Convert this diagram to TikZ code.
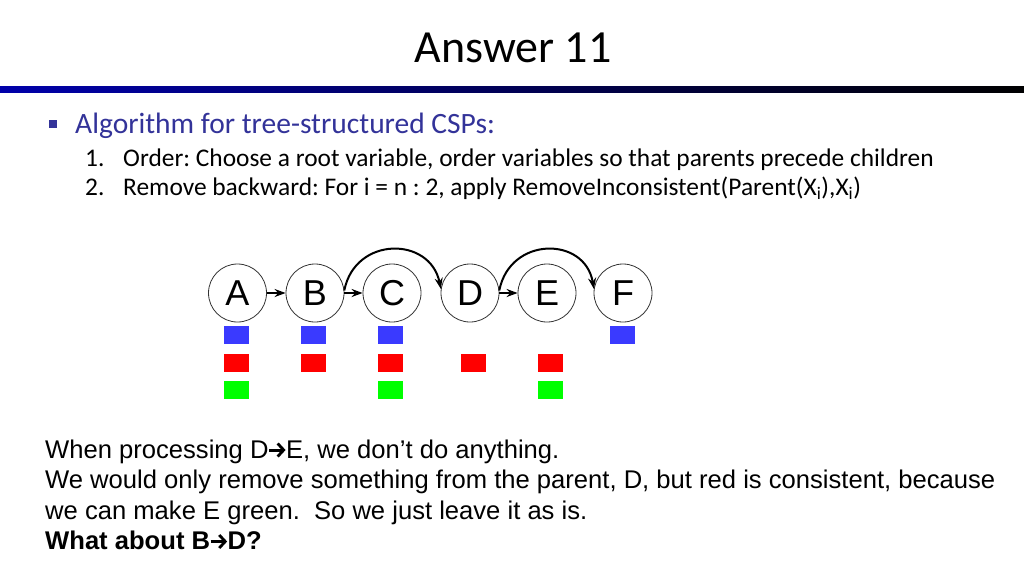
\documentclass[tikz,border=0pt]{standalone}
\usepackage{fontspec}
\setmainfont{Carlito}
\newfontfamily\arialf{Liberation Sans}
\usetikzlibrary{arrows.meta}
\definecolor{titlebl}{RGB}{0,0,170}
\definecolor{bultc}{RGB}{51,51,153}
\definecolor{sqblue}{RGB}{58,58,255}
\definecolor{sqred}{RGB}{255,0,0}
\definecolor{sqgreen}{RGB}{0,255,0}
\newcommand{\txtarrow}{\tikz[baseline=0pt,x=1pt,y=1pt]{\useasboundingbox (-0.5,0) rectangle (17,16); \draw[line width=3pt,-{Straight Barb[length=6pt,width=13pt,line width=2.8pt]}] (0,8) -- (16.5,8);}}
\tikzset{
  vnode/.style={circle, draw=black!80, line width=0.8pt, minimum size=58pt, inner sep=0pt, font=\arialf\fontsize{36}{36}\selectfont},
  arr/.style={-{Stealth[length=11pt,width=8pt]}, line width=2pt},
  sq/.style={minimum width=25pt, minimum height=18pt, inner sep=0pt, draw=none},
  body/.style={anchor=base west, inner sep=0pt, font=\arialf\fontsize{25.6}{25.6}\selectfont},
  item/.style={anchor=base west, inner sep=0pt, font=\fontsize{25.4}{25.4}\selectfont}
}
\begin{document}
\frenchspacing
\begin{tikzpicture}[x=1pt,y=-1pt]
\useasboundingbox (0,0) rectangle (1024,576);
\fill[white] (0,0) rectangle (1024,576);
% title
\node[inner sep=0pt, anchor=base, font=\fontsize{46}{46}\selectfont] (title) at (513,62) {Answer 11};
\shade[left color=titlebl, right color=black] (0,86.5) rectangle (1024,92);
% bullet
\fill[bultc] (49,120) rectangle (56.5,127.5);
\node[anchor=base west, inner sep=0pt, text=bultc, font=\fontsize{29.5}{29.5}\selectfont] (h1) at (75,133) {Algorithm for tree-structured CSPs:};
\node[item] (n1) at (85,166) {1.};
\node[item] (i1) at (123,166) {Order: Choose a root variable, order variables so that parents precede children};
\node[item] (n2) at (85,195.5) {2.};
\node[item] (i2) at (123,195.5) {Remove backward: For i = n : 2, apply RemoveInconsistent(Parent(X\textsubscript{i}),X\textsubscript{i})};
% graph
\node[vnode] (A) at (237.5,293) {A};
\node[vnode] (B) at (315,293) {B};
\node[vnode] (C) at (392,293) {C};
\node[vnode] (D) at (470,293) {D};
\node[vnode] (E) at (547,293) {E};
\node[vnode] (F) at (623,293) {F};
\draw[arr] (A) -- (B);
\draw[arr] (B) -- (C);
\draw[arr] (D) -- (E);
\draw[arr] (B.5) .. controls (355,236) and (430,236) .. (D.172);
\draw[arr] (D.5) .. controls (510,236) and (585,236) .. (F.172);
% domains
\node[sq, fill=sqblue] (Ab) at (236.5,335) {};
\node[sq, fill=sqred] (Ar) at (236.5,362.5) {};
\node[sq, fill=sqgreen] (Ag) at (236.5,390) {};
\node[sq, fill=sqblue] (Bb) at (313.5,335) {};
\node[sq, fill=sqred] (Br) at (313.5,362.5) {};
\node[sq, fill=sqblue] (Cb) at (390.5,335) {};
\node[sq, fill=sqred] (Cr) at (390.5,362.5) {};
\node[sq, fill=sqgreen] (Cg) at (390.5,390) {};
\node[sq, fill=sqred] (Dr) at (473,362.5) {};
\node[sq, fill=sqred] (Er) at (550,362.5) {};
\node[sq, fill=sqgreen] (Eg) at (550,390) {};
\node[sq, fill=sqblue] (Fb) at (622,335) {};
% bottom text
\node[body] (t1) at (45,458) {When processing D\txtarrow E, we don’t do anything.};
\node[body] (t2) at (45,488.5) {We would only remove something from the parent, D, but red is consistent, because};
\node[body] (t3) at (45,519) {we can make E green.\ \ So we just leave it as is.};
\node[body, font=\arialf\bfseries\fontsize{25.6}{25.6}\selectfont] (t4) at (45,549.5) {What about B\txtarrow D?};
\end{tikzpicture}
\end{document}
